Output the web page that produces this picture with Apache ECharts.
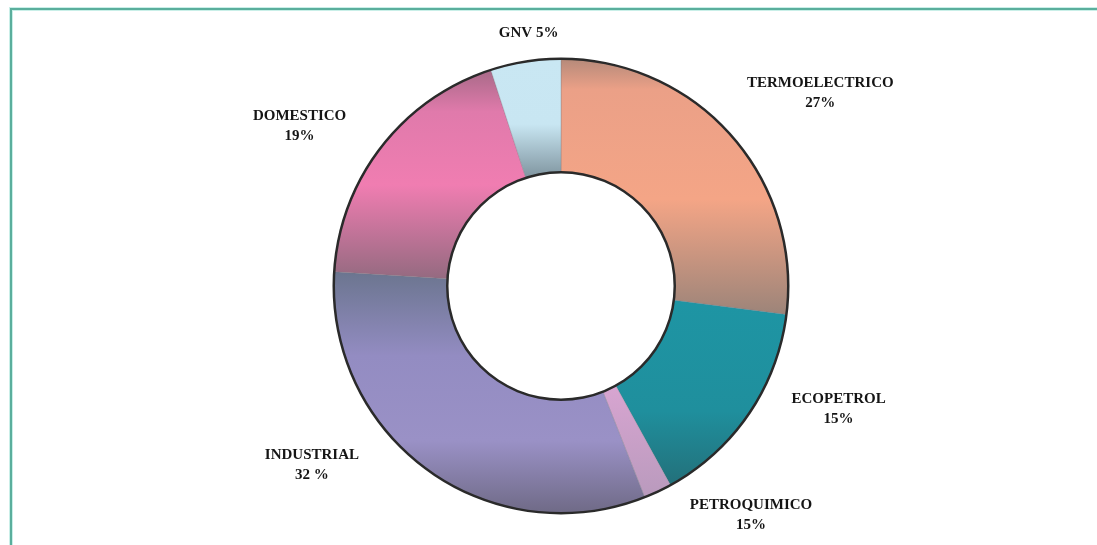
<!DOCTYPE html>
<html>
<head>
<meta charset="utf-8">
<script src="https://cdn.jsdelivr.net/npm/echarts@6/dist/echarts.min.js"></script>
<style>
  html, body { margin: 0; padding: 0; background: #ffffff; }
  #chart { position: absolute; left: 0; top: 0; width: 1097px; height: 545px; }
  #frame { position: absolute; left: 10px; top: 8px; width: 1087px; height: 537px;
           border-top: 2px solid #5aae9c; border-left: 2px solid #5aae9c; pointer-events: none;
           box-shadow: inset 1px 1px 0 #c9efe8, -1px -1px 0 #c9efe8; }
</style>
</head>
<body>
<div id="chart"></div>
<div id="frame"></div>
<script>
// Categories in clockwise order from 12 o'clock
const categories = ['TERMOELECTRICO', 'ECOPETROL', 'PETROQUIMICO', 'INDUSTRIAL', 'DOMESTICO', 'GNV'];
// Slice sizes (percent)
const values = [27, 15, 2, 32, 19, 5];
// Percentages as printed on the labels
const shownPct = ['27%', '15%', '15%', '32 %', '19%', '5%'];

const grad = (stops) => new echarts.graphic.LinearGradient(0, 0, 0, 1,
  stops.map(([o, c]) => ({ offset: o, color: c })));

const fills = [
  grad([[0, '#b58a7a'], [0.12, '#eba087'], [0.55, '#f4a586'], [1, '#9c8479']]),
  grad([[0, '#1e95a4'], [0.6, '#1f8f9d'], [1, '#23707a']]),
  grad([[0, '#d8a5d1'], [1, '#b99abd']]),
  grad([[0, '#6b758f'], [0.35, '#938cc2'], [0.7, '#9a91c6'], [1, '#6f6a86']]),
  grad([[0, '#a86a88'], [0.2, '#e07aab'], [0.55, '#f07db1'], [1, '#946a80']]),
  grad([[0, '#c9e7f3'], [0.55, '#c8e6f2'], [1, '#7f949f']])
];

const labelOffsets = [[32, 8], [27, -47], [61, -45], [-71, -66], [-22, 26], [15, 46]];

const center = [561, 286];

const option = {
  backgroundColor: '#ffffff',
  animation: false,
  series: [
    {
      type: 'pie',
      center: center,
      radius: [114, 227],
      startAngle: 90,
      clockwise: true,
      silent: true,
      label: { show: false },
      labelLine: { show: false },
      itemStyle: { borderWidth: 0.6, borderColor: 'rgba(120,120,130,0.5)' },
      data: categories.map((n, i) => ({ name: n, value: values[i], itemStyle: { color: fills[i] } }))
    },
    {
      // label carrier ring (invisible)
      type: 'pie',
      center: center,
      radius: [290, 310],
      startAngle: 90,
      clockwise: true,
      silent: true,
      itemStyle: { color: 'rgba(0,0,0,0)', borderWidth: 0 },
      labelLine: { show: false },
      label: {
        show: true,
        position: 'inside',
        rotate: 0,
        fontFamily: '"Liberation Serif", serif',
        fontWeight: 'bold',
        fontSize: 15,
        lineHeight: 20,
        color: '#151515',
        align: 'center'
      },
      data: categories.map((n, i) => ({
        name: n, value: values[i],
        label: {
          offset: labelOffsets[i],
          formatter: n === 'GNV' ? n + ' ' + shownPct[i] : n + '\n' + shownPct[i]
        }
      }))
    },
    {
      type: 'pie', center: center, radius: [226, 228.5], silent: true,
      label: { show: false }, labelLine: { show: false },
      itemStyle: { color: '#2a2a2a', borderWidth: 0 }, data: [{ value: 1 }]
    },
    {
      type: 'pie', center: center, radius: [112.5, 115], silent: true,
      label: { show: false }, labelLine: { show: false },
      itemStyle: { color: '#2a2a2a', borderWidth: 0 }, data: [{ value: 1 }]
    }
  ]
};

const chart = echarts.init(document.getElementById('chart'), null, { renderer: 'canvas' });
chart.setOption(option);
</script>
</body>
</html>
